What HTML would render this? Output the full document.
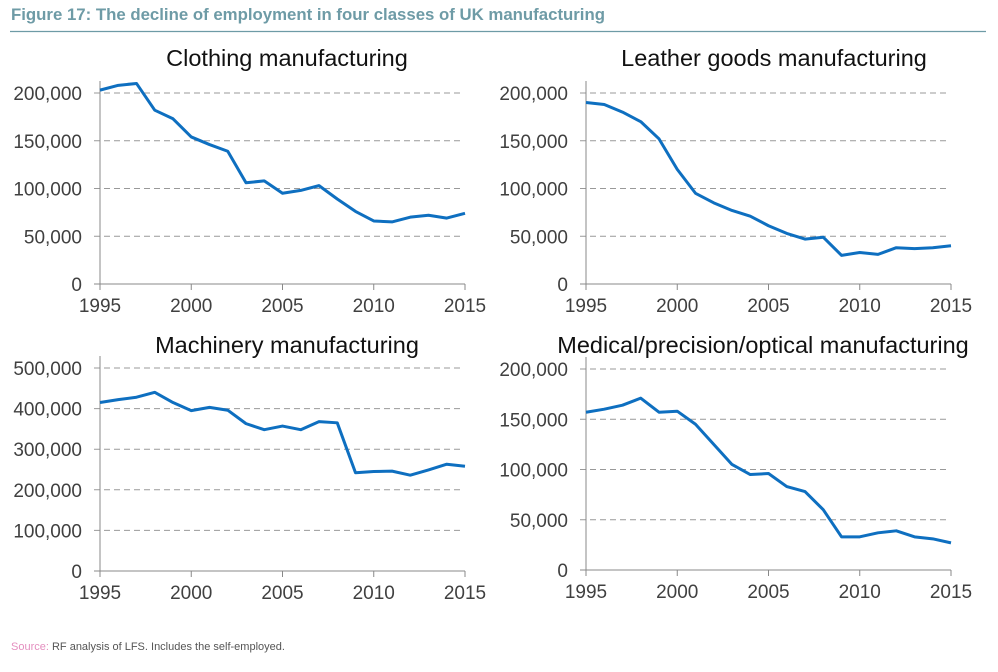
<!DOCTYPE html>
<html><head><meta charset="utf-8"><style>
body{margin:0;background:#fff;width:998px;height:667px;overflow:hidden;font-family:"Liberation Sans",sans-serif}
</style></head><body>
<svg id="s" width="998" height="667">
<text x="11" y="20" font-size="16.8" font-weight="bold" fill="#6e9ba6">Figure 17:  The decline of employment in four classes of UK manufacturing</text>
<line x1="10" y1="31.5" x2="986" y2="31.5" stroke="#6e9ba6" stroke-width="1.2"/>
<text x="11" y="650" font-size="11" fill="#555"><tspan fill="#e48fbf">Source:</tspan> RF analysis of LFS. Includes the self-employed.</text>
</svg>
<script>
const years=[1995,1996,1997,1998,1999,2000,2001,2002,2003,2004,2005,2006,2007,2008,2009,2010,2011,2012,2013,2014,2015];
const xTicks=[1995,2000,2005,2010,2015];
const clothing=[203000,208000,210000,182000,173000,154000,146000,139000,106000,108000,95000,98000,103000,89000,76000,66000,65000,70000,72000,69000,74000];
const leather=[190000,188000,180000,170000,152000,120000,95000,85000,77000,71000,61000,53000,47000,49000,30000,33000,31000,38000,37000,38000,40000];
const machinery=[415000,422000,428000,440000,415000,395000,403000,396000,363000,348000,357000,348000,368000,365000,242000,245000,246000,236000,249000,263000,258000];
const medical=[157000,160000,164000,171000,157000,158000,145000,125000,105000,95000,96000,83000,78000,60000,33000,33000,37000,39000,33000,31000,27000];
const ticks200=[0,50000,100000,150000,200000];
const ticks500=[0,100000,200000,300000,400000,500000];
const svg=document.getElementById('s');
const NS='http://www.w3.org/2000/svg';
function mk(t,a){const e=document.createElementNS(NS,t);for(const k in a)e.setAttribute(k,a[k]);svg.appendChild(e);return e;}
function fmt(v){return v.toLocaleString('en-US');}
function panel(key,title,data,yTicks,yMax,x0,x1,y0,y1,ty,tx){
  const xs=v=>x0+(v-1995)/20*(x1-x0);
  const ys=v=>y0-(v/yMax)*(y0-y1);
  const t=mk('text',{x:tx,y:ty,'font-size':23.5,'text-anchor':'middle',fill:'#111'});t.textContent=title;
  
  
  yTicks.forEach(v=>{
    const y=ys(v);
    if(v>0){const g=mk('line',{x1:x0-6,x2:x1-2,y1:y,y2:y,stroke:'#999','stroke-width':1,'stroke-dasharray':'6,4'});
    
    }
    const l=mk('text',{x:x0-18,y:y+7,'font-size':19,'text-anchor':'end',fill:'#404040'});l.textContent=fmt(v);
    
    
  });
  const ax=mk('path',{d:`M${x0} ${y1-12}V${y0}M${x0-6} ${y0}H${x1}`,stroke:'#888','stroke-width':1,fill:'none'});
  
  
  xTicks.forEach(v=>{
    const x=xs(v);
    const tk=mk('line',{x1:x,x2:x,y1:y0,y2:y0+6,stroke:'#888'});
    
    
    const l=mk('text',{x:x,y:y0+28,'font-size':19,'text-anchor':'middle',fill:'#404040'});l.textContent=v;
    
    
  });
  const p=mk('polyline',{points:data.map((v,i)=>xs(years[i])+','+ys(v)).join(' '),fill:'none',stroke:'#0e6fc0','stroke-width':3,'stroke-linejoin':'round'});
  
  
}
panel('clothing','Clothing manufacturing',clothing,ticks200,200000,100,465,284,93,66,287);
panel('leather','Leather goods manufacturing',leather,ticks200,200000,586,951,284,93,66,774);
panel('machinery','Machinery manufacturing',machinery,ticks500,500000,100,465,571,368,353,287);
panel('medical','Medical/precision/optical manufacturing',medical,ticks200,200000,586,951,570,369,353,763);
</script>
</body></html>
